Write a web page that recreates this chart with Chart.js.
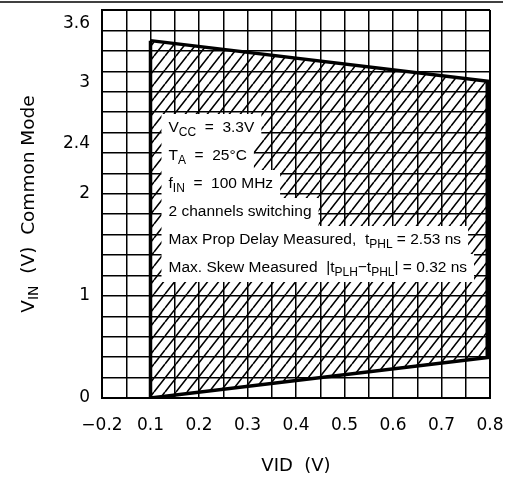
<!DOCTYPE html>
<html>
<head>
<meta charset="utf-8">
<script src="https://cdn.jsdelivr.net/npm/chart.js@4.4.0/dist/chart.umd.min.js"></script>
<style>
  html, body { margin: 0; padding: 0; background: #fff; }
  canvas { display: block; }
</style>
</head>
<body>
<canvas id="chart" width="510" height="479"></canvas>
<script>
// VID (V) along x, common mode VIN (V) along y
const xMin = 0, xMax = 0.8, xGridStep = 0.05;
const yMin = 0, yMax = 3.8, yGridStep = 0.2;

// x labels as printed on the sheet (the first one really reads -0.2)
const xTickLabels = ["\u22120.2", "0.1", "0.2", "0.3", "0.4", "0.5", "0.6", "0.7", "0.8"];

// y labels; on the sheet the upper ones sit a bit above their gridlines
const yTickValues = [0, 1, 2, 2.49, 3.09, 3.67];
const yTickLabels = ["0", "1", "2", "2.4", "3", "3.6"];

// operating region: VID edges and the VIN limits at each edge
const regionVid = [0.1, 0.8];
const regionTop = [3.5, 3.1];
const regionBottom = [0, 0.4];

// test conditions, split into normal / subscript runs
const notes = [
  [["V"], ["CC", 1], ["  =  3.3V"]],
  [["T"], ["A", 1], ["  =  25\u00b0C"]],
  [["f"], ["IN", 1], ["  =  100 MHz"]],
  [["2 channels switching"]],
  [["Max Prop Delay Measured,  t"], ["PHL", 1], [" = 2.53 ns"]],
  [["Max. Skew Measured  |t"], ["PLH", 1], ["\u2212t"], ["PHL", 1], ["| = 0.32 ns"]],
];

const yTitle = [["V"], ["IN", 1], ["  (V)  Common Mode"]];

const FONT = "DejaVu Sans";
const NOTE_FONT = "Liberation Sans";

function makeHatch() {
  const w = 11, h = 14;
  const c = document.createElement("canvas");
  c.width = w;
  c.height = h;
  const g = c.getContext("2d");
  g.strokeStyle = "#000";
  g.lineWidth = 1.6;
  g.beginPath();
  for (const dx of [-w, 0, w]) {
    g.moveTo(dx, h);
    g.lineTo(dx + w, 0);
  }
  g.stroke();
  return g.createPattern(c, "repeat");
}

function richWidth(ctx, segs, family, size, subSize) {
  let w = 0;
  for (const [t, sub] of segs) {
    ctx.font = `${sub ? subSize : size}px "${family}"`;
    w += ctx.measureText(t).width;
  }
  return w;
}

function drawRich(ctx, segs, x, y, family, size, subSize) {
  ctx.textBaseline = "middle";
  ctx.textAlign = "left";
  ctx.fillStyle = "#000";
  for (const [t, sub] of segs) {
    ctx.font = `${sub ? subSize : size}px "${family}"`;
    ctx.fillText(t, x, sub ? y + 5 : y);
    x += ctx.measureText(t).width;
  }
}

const notesPlugin = {
  id: "notes",
  afterDatasetsDraw(chart) {
    const ctx = chart.ctx;
    const x0 = chart.scales.x.getPixelForValue(regionVid[0]);
    const boxLeft = x0 + 11;
    const textX = x0 + 18;
    const rowH = 28;
    let top = chart.chartArea.top + 104;
    ctx.save();
    for (const segs of notes) {
      const w = richWidth(ctx, segs, NOTE_FONT, 15.5, 12);
      ctx.fillStyle = "#fff";
      ctx.fillRect(boxLeft, top, textX - boxLeft + w + 7, rowH);
      drawRich(ctx, segs, textX, top + rowH / 2, NOTE_FONT, 15.5, 12);
      top += rowH;
    }
    ctx.restore();
  },
  afterDraw(chart) {
    const ctx = chart.ctx;
    const area = chart.chartArea;
    ctx.save();
    // y title, rotated
    const cy = (area.top + area.bottom) / 2;
    ctx.translate(29, cy);
    ctx.rotate(-Math.PI / 2);
    const w = richWidth(ctx, yTitle, FONT, 18.5, 14);
    drawRich(ctx, yTitle, -w / 2, 0, FONT, 18.5, 14);
    ctx.restore();
    // rule across the top of the page
    ctx.save();
    ctx.strokeStyle = "#000";
    ctx.lineWidth = 1.5;
    ctx.beginPath();
    ctx.moveTo(0, 2);
    ctx.lineTo(503, 2);
    ctx.stroke();
    ctx.restore();
  },
};

const hatch = makeHatch();
const edgeWidth = (ctx) => (ctx.index === 0 || ctx.tick.value >= ctx.scale.max - 1e-9 ? 2 : 1.5);

new Chart(document.getElementById("chart"), {
  type: "line",
  data: {
    datasets: [
      {
        data: regionVid.map((x, i) => ({ x, y: regionTop[i] })),
        borderColor: "#000",
        borderWidth: 3.5,
        backgroundColor: hatch,
        fill: "+1",
        pointRadius: 0,
        clip: 0,
      },
      {
        data: regionVid.map((x, i) => ({ x, y: regionBottom[i] })),
        borderColor: "#000",
        borderWidth: 3.5,
        fill: false,
        pointRadius: 0,
        clip: 0,
      },
      {
        data: [
          { x: regionVid[0], y: regionBottom[0] },
          { x: regionVid[0], y: regionTop[0] },
        ],
        borderColor: "#000",
        borderWidth: 3.5,
        fill: false,
        pointRadius: 0,
        clip: 0,
      },
      {
        data: [
          { x: regionVid[1], y: regionBottom[1] },
          { x: regionVid[1], y: regionTop[1] },
        ],
        borderColor: "#000",
        borderWidth: 9,
        fill: false,
        pointRadius: 0,
        clip: 0,
      },
    ],
  },
  options: {
    responsive: false,
    animation: false,
    layout: { padding: { top: 10, right: 20, left: 0, bottom: 0 } },
    plugins: {
      legend: { display: false },
      tooltip: { enabled: false },
    },
    scales: {
      x: {
        type: "linear",
        min: xMin,
        max: xMax,
        ticks: {
          stepSize: xGridStep,
          autoSkip: false,
          maxRotation: 0,
          padding: 17,
          color: "#000",
          font: { family: FONT, size: 17 },
          callback: (v) => {
            const i = Math.round(v / xGridStep);
            return i % 2 === 0 ? xTickLabels[i / 2] : "";
          },
        },
        grid: { color: "#000", lineWidth: edgeWidth, drawTicks: false },
        border: { color: "#000", width: 2 },
        title: {
          display: true,
          text: "VID  (V)",
          color: "#000",
          font: { family: FONT, size: 18 },
          padding: { top: 0, bottom: 2 },
        },
        afterFit: (s) => {
          s.height = 81;
          s.paddingLeft = 0;
          s.paddingRight = 0;
        },
      },
      y: {
        type: "linear",
        position: "left",
        min: yMin,
        max: yMax,
        ticks: { display: false, stepSize: yGridStep },
        grid: { color: "#000", lineWidth: edgeWidth, drawTicks: false },
        border: { color: "#000", width: 2 },
        afterFit: (s) => {
          s.width = 0;
          s.paddingTop = 0;
          s.paddingBottom = 0;
        },
      },
      yl: {
        type: "linear",
        position: "left",
        min: yMin,
        max: yMax,
        grid: { display: false, drawTicks: false },
        border: { display: false },
        afterBuildTicks: (s) => {
          s.ticks = yTickValues.map((v) => ({ value: v }));
        },
        ticks: {
          autoSkip: false,
          padding: 12,
          color: "#000",
          font: { family: FONT, size: 17 },
          callback: (v, i) => yTickLabels[i],
        },
        afterFit: (s) => {
          s.width = 102;
          s.paddingTop = 0;
          s.paddingBottom = 0;
        },
      },
    },
  },
  plugins: [notesPlugin],
});
</script>
</body>
</html>
